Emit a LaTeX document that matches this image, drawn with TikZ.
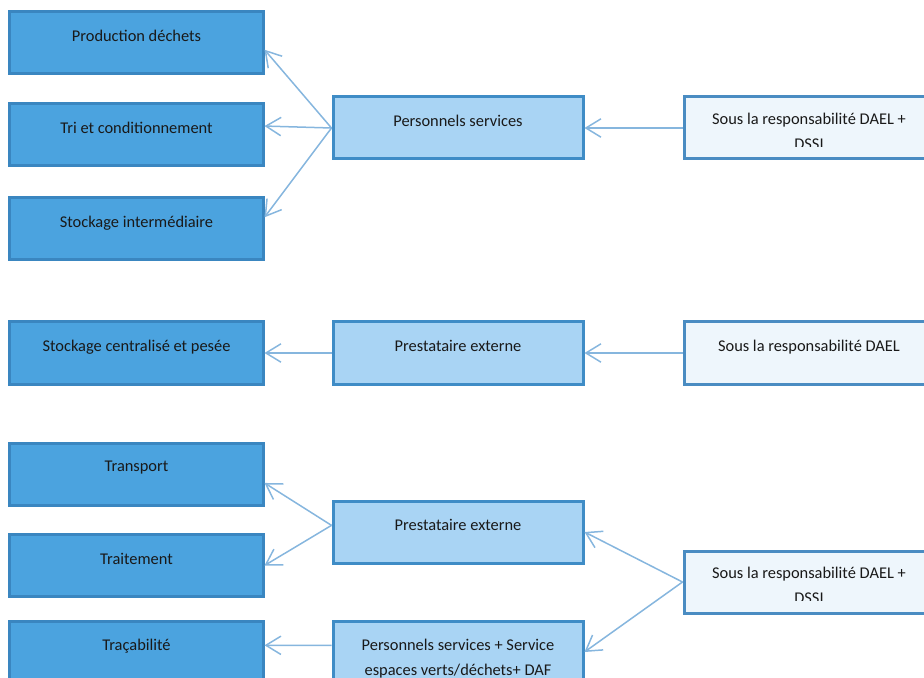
\documentclass[tikz,border=0pt]{standalone}
\usepackage{fontspec}
\setmainfont{Carlito}
\usetikzlibrary{arrows.meta,calc}

\definecolor{bleufonce}{HTML}{4BA3DF}
\definecolor{bordfonce}{HTML}{3A86C0}
\definecolor{bleuclair}{HTML}{A9D4F4}
\definecolor{bordclair}{HTML}{3F8CC6}
\definecolor{bleupale}{HTML}{EEF6FC}
\definecolor{bordpale}{HTML}{4A8CC2}
\definecolor{trait}{HTML}{86B6DE}

\tikzset{
    etape/.style={draw=bordfonce, fill=bleufonce, line width=0.9mm, minimum width=75.9mm, minimum height=18.6mm, inner sep=0pt},
    acteur/.style={draw=bordclair, fill=bleuclair, line width=0.9mm, minimum width=75mm, minimum height=18.6mm, inner sep=0pt},
    resp/.style={draw=bordpale, fill=bleupale, line width=0.9mm, minimum width=75mm, minimum height=18.6mm, inner sep=0pt},
    texte/.style={font=\fontsize{14}{21}\selectfont, text=black!90, align=center, anchor=north, inner sep=0pt},
    fleche/.style={draw=trait, line width=0.45mm, -{Straight Barb[length=4.5mm,width=5.5mm]}}
}

\begin{document}
\begin{tikzpicture}[x=0.3mm,y=-0.3mm]
    \useasboundingbox (0,0) rectangle (924,678);

    % colonne de gauche : les etapes
    \node[etape] (prod) at (136.5,43) {};
    \node[etape] (tri) at (136.5,135) {};
    \node[etape] (stockint) at (136.5,228.5) {};
    \node[etape] (stockcent) at (136.5,353) {};
    \node[etape] (transport) at (136.5,474) {};
    \node[etape] (traitement) at (136.5,565.5) {};
    \node[etape] (tracab) at (136.5,652) {};

    % colonne du milieu : qui le fait
    \node[acteur] (pers1) at (458,128) {};
    \node[acteur] (prest1) at (458,353) {};
    \node[acteur] (prest2) at (458,532) {};
    \node[acteur] (persserv) at (458,652) {};

    % colonne de droite : responsabilite
    \node[resp] (resp1) at (809,128) {};
    \node[resp] (resp2) at (809,353) {};
    \node[resp] (resp3) at (809,582) {};

    % textes des boites
    \node[texte] (prod-t) at ($(prod.north)+(0,19.5)$) {Production déchets};
    \node[texte] (tri-t) at ($(tri.north)+(0,19.5)$) {Tri et conditionnement};
    \node[texte] (stockint-t) at ($(stockint.north)+(0,19.5)$) {Stockage intermédiaire};
    \node[texte] (stockcent-t) at ($(stockcent.north)+(0,19.5)$) {Stockage centralisé et pesée};
    \node[texte] (transport-t) at ($(transport.north)+(0,19.5)$) {Transport};
    \node[texte] (traitement-t) at ($(traitement.north)+(0,19.5)$) {Traitement};
    \node[texte] (tracab-t) at ($(tracab.north)+(0,19.5)$) {Traçabilité};

    \node[texte] (pers1-t) at ($(pers1.north)+(0,19.5)$) {Personnels services};
    \node[texte] (prest1-t) at ($(prest1.north)+(0,19.5)$) {Prestataire externe};
    \node[texte] (prest2-t) at ($(prest2.north)+(0,19.5)$) {Prestataire externe};
    \node[texte] (persserv-t) at ($(persserv.north)+(0,19.5)$) {Personnels services + Service\\ espaces verts/déchets+ DAF};

    \node[texte] (resp2-t) at ($(resp2.north)+(0,19.5)$) {Sous la responsabilité DAEL};
    % texte coupe en bas de la boite
    \begin{scope}
        \clip ($(resp1.south west)+(0,-14)$) rectangle (resp1.north east);
        \node[texte] (resp1-t) at ($(resp1.north)+(0,17.5)$) {Sous la responsabilité DAEL +\\ DSSI};
    \end{scope}
    \begin{scope}
        \clip ($(resp3.south west)+(0,-14)$) rectangle (resp3.north east);
        \node[texte] (resp3-t) at ($(resp3.north)+(0,17.5)$) {Sous la responsabilité DAEL +\\ DSSI};
    \end{scope}

    % fleches
    \draw[fleche] (pers1.west) -- (prod.-3);
    \draw[fleche] (pers1.west) -- (tri.4);
    \draw[fleche] (pers1.west) -- (stockint.5);
    \draw[fleche] (resp1.west) -- (pers1.east);

    \draw[fleche] (prest1.west) -- (stockcent.east);
    \draw[fleche] (resp2.west) -- (prest1.east);

    \draw[fleche] (prest2.177) -- (transport.-4);
    \draw[fleche] (prest2.177) -- (traitement.east);
    \draw[fleche] (persserv.177) -- (tracab.3);
    \draw[fleche] (resp3.west) -- (prest2.east);
    \draw[fleche] (resp3.west) -- (persserv.east);
\end{tikzpicture}
\end{document}
